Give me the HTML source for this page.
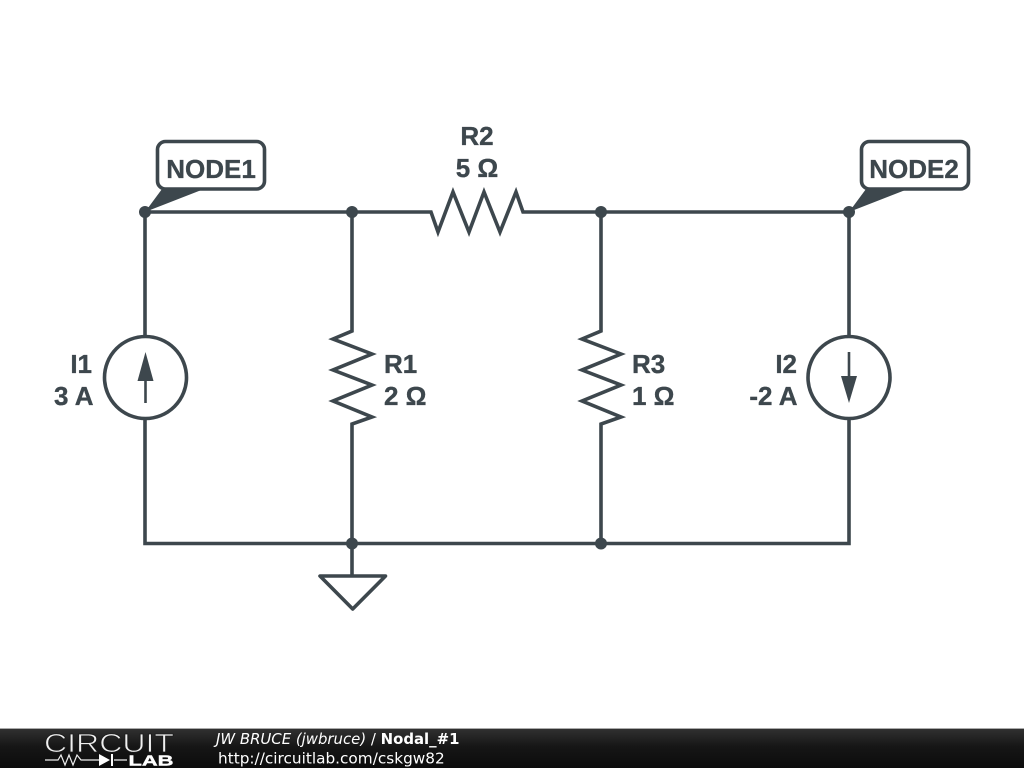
<!DOCTYPE html>
<html>
<head>
<meta charset="utf-8">
<style>
html,body{margin:0;padding:0;background:#fff;width:1024px;height:768px;overflow:hidden}
svg{display:block}
.l{font-family:"Liberation Sans",sans-serif;font-weight:bold;font-size:26px;fill:#3d474d;stroke:#3d474d;stroke-width:0.35px}
.f{font-family:"DejaVu Sans",sans-serif;fill:#fff}
</style>
</head>
<body>
<svg width="1024" height="768" viewBox="0 0 1024 768" xmlns="http://www.w3.org/2000/svg">
<defs>
<linearGradient id="g" x1="0" y1="0" x2="0" y2="1">
<stop offset="0" stop-color="#303030"/>
<stop offset="0.45" stop-color="#161616"/>
<stop offset="1" stop-color="#0c0c0c"/>
</linearGradient>
</defs>
<rect width="1024" height="768" fill="#fff"/>
<g fill="none" stroke="#3d474d" stroke-width="3.600" stroke-linejoin="miter">
<path d="M145 212H431L438 232L453 192L469 232L484 192L500 232L516 192L523 212H849"/>
<path d="M145 212V336M145 419V543.500H849V419M849 336V212"/>
<path d="M352 212V331L333 339L372 354L333 370L372 385L333 401L372 417L352 424V576"/>
<path d="M601 212V331L582 339L621 354L582 370L621 385L582 401L621 417L601 424V543"/>
<circle cx="145.500" cy="377.500" r="41"/>
<circle cx="849" cy="377.500" r="41"/>
<path d="M320 576H385.500L352.700 609Z" stroke-linejoin="round"/>
<rect x="157.500" y="141.500" width="107" height="47.500" rx="8"/>
<rect x="861.500" y="141.500" width="107" height="47.500" rx="8"/>
<path d="M145.500 403V375M849 352V380" stroke-width="2.600"/>
</g>
<g fill="#3d474d">
<path d="M145.500 352L153.500 381H137.500Z"/>
<path d="M849 403L857 376H841Z"/>
<path d="M145 212L162 189H204Z"/>
<path d="M849 212L866 189H908Z"/>
<circle cx="145" cy="212" r="6"/>
<circle cx="352" cy="212" r="6"/>
<circle cx="601" cy="212" r="6"/>
<circle cx="849" cy="212" r="6"/>
<circle cx="352" cy="543.500" r="6"/>
<circle cx="601" cy="543.500" r="6"/>
</g>
<text class="l" x="211" y="178" text-anchor="middle">NODE1</text>
<text class="l" x="914" y="178" text-anchor="middle">NODE2</text>
<text class="l" x="477" y="145" text-anchor="middle">R2</text>
<text class="l" x="477" y="177" text-anchor="middle">5 Ω</text>
<text class="l" x="384" y="373">R1</text>
<text class="l" x="384" y="405">2 Ω</text>
<text class="l" x="632" y="373">R3</text>
<text class="l" x="632" y="405">1 Ω</text>
<text class="l" x="92" y="373" text-anchor="end">I1</text>
<text class="l" x="93.500" y="405" text-anchor="end">3 A</text>
<text class="l" x="797" y="373" text-anchor="end">I2</text>
<text class="l" x="797.500" y="405" text-anchor="end">-2 A</text>
<rect x="0" y="728" width="1024" height="1" fill="#aaa"/>
<rect x="0" y="729" width="1024" height="39" fill="url(#g)"/>
<text x="44" y="752" font-family="Liberation Sans,sans-serif" font-size="26" fill="#f0f0f0" stroke="#1c1c1c" stroke-width="0.800" textLength="130" lengthAdjust="spacingAndGlyphs">CIRCUIT</text>
<path d="M45 760H58L61 755L65 765L69 755L73 765L77 755L81 760H99M114 760H127" fill="none" stroke="#eee" stroke-width="1.200"/>
<path d="M99 754V766L110 760ZM111 754H113V766H111Z" fill="#fff"/>
<text x="128.500" y="765.500" font-family="Liberation Sans,sans-serif" font-weight="bold" font-size="15" fill="#fff" stroke="#fff" stroke-width="0.400" textLength="45" lengthAdjust="spacingAndGlyphs">LAB</text>
<text class="f" x="216" y="744" font-size="14.900"><tspan font-style="italic">JW BRUCE (jwbruce)</tspan> / <tspan font-weight="bold">Nodal_#1</tspan></text>
<text class="f" x="218" y="763.500" font-size="15.300">http://circuitlab.com/cskgw82</text>
</svg>
</body>
</html>
